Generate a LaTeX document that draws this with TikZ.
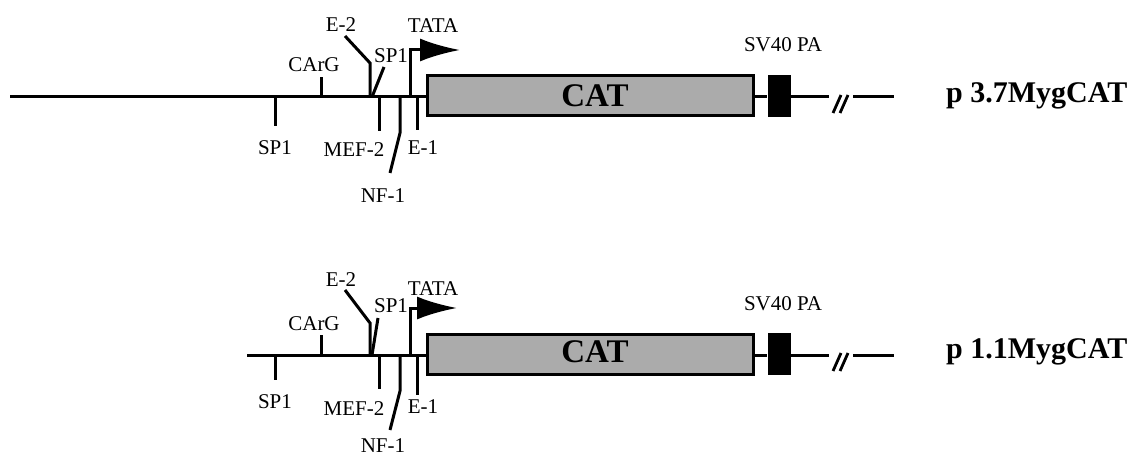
\documentclass[tikz,border=0pt]{standalone}
\usepackage{fontspec}
\setmainfont{Liberation Serif}
\usetikzlibrary{arrows.meta}
\tikzset{
  dna/.style={line width=3pt},
  tickline/.style={line width=3pt},
  lab/.style={font=\fontsize{21}{21}\selectfont, inner sep=0pt, anchor=base},
  catbox/.style={draw, line width=3pt, fill=black!33, minimum width=326pt, minimum height=40pt, inner sep=0pt},
  catlab/.style={font=\fontsize{33}{33}\selectfont\bfseries, inner sep=0pt, anchor=base},
  pabox/.style={fill=black, minimum width=23pt, minimum height=42pt, inner sep=0pt},
  namelab/.style={font=\fontsize{30}{30}\selectfont\bfseries, inner sep=0pt, anchor=base west},
  tata/.style={line width=3pt, -{Latex[length=40pt,width=23pt]}},
}
% #1 prefix, #2 yshift, #3 line start x, #4 name
\newcommand\myrow[4]{%
\begin{scope}[yshift=-#2pt]
  \coordinate (#1start) at (#3,97);
  \node[catbox] (#1cat) at (590,96) {};
  \node[catlab] (#1catt) at (595,\catY) {CAT};
  \node[pabox] (#1pa) at (779,96) {};
  \coordinate (#1e1) at (829,97);
  \coordinate (#1e2) at (853,97);
  \coordinate (#1e3) at (894,97);
  \draw[dna] (#1start) -- (#1cat.west|-#1start);
  \draw[dna] (#1cat.east|-#1start) -- (#1pa.west|-#1start);
  \draw[dna] (#1pa.east|-#1e1) -- (#1e1);
  \draw[dna] (#1e2) -- (#1e3);
  \coordinate (#1s1a) at (833,113);
  \coordinate (#1s1b) at (841,95);
  \coordinate (#1s2a) at (840,113);
  \coordinate (#1s2b) at (848,95);
  \draw[line width=2.8pt] (#1s1a) -- (#1s1b);
  \draw[line width=2.8pt] (#1s2a) -- (#1s2b);
  % SP1 lower
  \coordinate (#1sp1a) at (275,97);
  \coordinate (#1sp1b) at (275,\spEnd);
  \draw[tickline] (#1sp1a) -- (#1sp1b);
  \node[lab] (#1sp1l) at (275,\spLab) {SP1};
  % CArG
  \coordinate (#1carga) at (321,97);
  \coordinate (#1cargb) at (321,77);
  \draw[tickline] (#1carga) -- (#1cargb);
  \node[lab] (#1cargl) at (314,72) {CArG};
  % E-2
  \coordinate (#1e2a) at (370,97);
  \coordinate (#1e2b) at (370,\eTwoV);
  \coordinate (#1e2c) at (345,\eTwoD);
  \draw[tickline] (#1e2a) -- (#1e2b) -- (#1e2c);
  \node[lab] (#1e2l) at (341,\eTwoL) {E-2};
  % SP1 upper
  \coordinate (#1sp2a) at (372,97);
  \coordinate (#1sp2b) at (\spUx,\spUy);
  \draw[tickline] (#1sp2a) -- (#1sp2b);
  \node[lab] (#1sp2l) at (391,\spUL) {SP1};
  % MEF-2
  \coordinate (#1mefa) at (379,97);
  \coordinate (#1mefb) at (379,131);
  \draw[tickline] (#1mefa) -- (#1mefb);
  \node[lab] (#1mefl) at (354,157) {MEF-2};
  % NF-1
  \coordinate (#1nfa) at (400,97);
  \coordinate (#1nfb) at (400,133);
  \coordinate (#1nfc) at (390,\nfD);
  \draw[tickline] (#1nfa) -- (#1nfb) -- (#1nfc);
  \node[lab] (#1nfl) at (383,\nfL) {NF-1};
  % TATA
  \coordinate (#1ta) at (410,97);
  \coordinate (#1tb) at (410,50);
  \coordinate (#1tc) at (\tataX,50);
  \draw[tata] (#1ta) -- (#1tb) -- (#1tc);
  \node[lab] (#1tl) at (433,\tataL) {TATA};
  % E-1
  \coordinate (#1ea) at (417,97);
  \coordinate (#1eb) at (417,\eOne);
  \draw[tickline] (#1ea) -- (#1eb);
  \node[lab] (#1el) at (423,155) {E-1};
  % SV40 PA
  \node[lab] (#1sv) at (783,52) {SV40 PA};
  % name
  \node[namelab] (#1name) at (946,\nameY) {#4};
\end{scope}}
\begin{document}
\begin{tikzpicture}[x=1pt,y=-1pt]
  \useasboundingbox (0,0) rectangle (1146,457);
  \def\catY{107}\def\spEnd{126}\def\spLab{155}
  \def\eTwoV{63}\def\eTwoD{36}\def\eTwoL{32}
  \def\spUx{384}\def\spUy{67}\def\spUL{63}
  \def\nfD{173}\def\nfL{203}
  \def\tataX{460}\def\tataL{33}\def\eOne{130}\def\nameY{103}
  \myrow{a}{0}{10}{p 3.7MygCAT}
  \def\catY{104}\def\spEnd{122}\def\spLab{150}
  \def\eTwoV{65}\def\eTwoD{32}\def\eTwoL{29}
  \def\spUx{378}\def\spUy{60}\def\spUL{54}
  \def\nfD{172}\def\nfL{194}
  \def\tataX{457}\def\tataL{37}\def\eOne{137}\def\nameY{100}
  \myrow{b}{258}{247}{p 1.1MygCAT}
\end{tikzpicture}
\end{document}
